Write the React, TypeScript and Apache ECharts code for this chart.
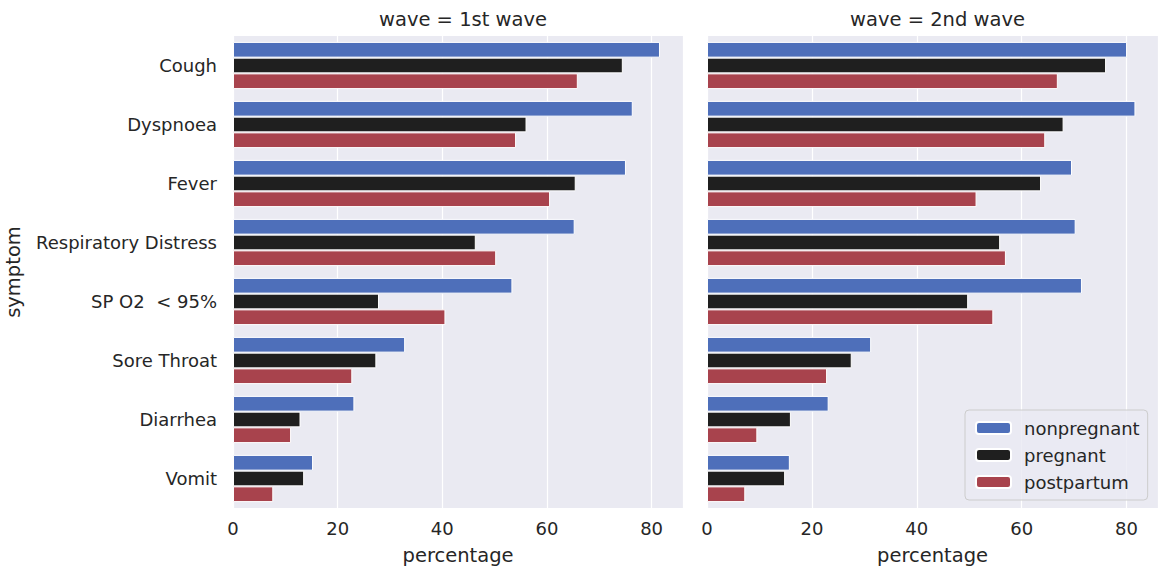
import React, { useEffect, useRef } from "react";
import * as echarts from "echarts";

const symptoms = ["Cough", "Dyspnoea", "Fever", "Respiratory Distress", "SP O2  < 95%", "Sore Throat", "Diarrhea", "Vomit"];
const groups = ["nonpregnant", "pregnant", "postpartum"];
const waveTitles = ["wave = 1st wave", "wave = 2nd wave"];

const wave1Nonpregnant = [81.6, 76.4, 75.1, 65.3, 53.4, 32.9, 23.2, 15.3];
const wave1Pregnant = [74.5, 56.1, 65.5, 46.4, 27.9, 27.4, 12.9, 13.6];
const wave1Postpartum = [65.9, 54.1, 60.6, 50.3, 40.6, 22.8, 11.1, 7.7];

const wave2Nonpregnant = [80.1, 81.7, 69.6, 70.3, 71.5, 31.3, 23.2, 15.8];
const wave2Pregnant = [76.1, 68.0, 63.7, 55.9, 49.8, 27.6, 16.0, 14.9];
const wave2Postpartum = [66.9, 64.5, 51.4, 57.0, 54.6, 22.9, 9.6, 7.3];

const xTicks = [0, 20, 40, 60, 80];

const colors = ["#4e6fba", "#1f1f1f", "#a8434d"];
const FONT = "DejaVu Sans";

export default function App() {
  const ref = useRef<HTMLDivElement>(null);
  useEffect(() => {
    if (!ref.current) return;
    const chart = echarts.init(ref.current, undefined, { renderer: "svg" });
    const waves = [
      [wave1Nonpregnant, wave1Pregnant, wave1Postpartum],
      [wave2Nonpregnant, wave2Pregnant, wave2Postpartum],
    ];
    const grids = [
      { left: 233, top: 36, width: 450, height: 474 },
      { left: 707, top: 36, width: 451, height: 474 },
    ];
    const xAxes = grids.map((_, i) => ({
      type: "value",
      gridIndex: i,
      min: 0,
      max: 86,
      interval: 20,
      name: "percentage",
      nameLocation: "middle",
      nameGap: 37,
      nameTextStyle: { fontFamily: FONT, fontSize: 19.5, color: "#262626" },
      axisLine: { show: false },
      axisTick: { show: false },
      axisLabel: {
        fontFamily: FONT,
        fontSize: 18,
        color: "#262626",
        margin: 11,
        formatter: (v: number) => (xTicks.includes(v) ? String(v) : ""),
      },
      splitLine: { show: true, lineStyle: { color: "#ffffff", width: 1.2 } },
    }));
    const yAxes = grids.map((_, i) => ({
      type: "category",
      gridIndex: i,
      data: symptoms,
      inverse: true,
      name: i === 0 ? "symptom" : "",
      nameLocation: "middle",
      nameRotate: 90,
      nameGap: 210,
      nameTextStyle: { fontFamily: FONT, fontSize: 19.5, color: "#262626" },
      axisLine: { show: false },
      axisTick: { show: false },
      axisLabel: {
        show: i === 0,
        fontFamily: FONT,
        fontSize: 18,
        color: "#262626",
        margin: 16,
      },
      splitLine: { show: false },
    }));
    const series: any[] = [];
    waves.forEach((w, i) => {
      w.forEach((vals, g) => {
        series.push({
          type: "bar",
          name: groups[g],
          xAxisIndex: i,
          yAxisIndex: i,
          data: vals,
          barGap: "0%",
          barCategoryGap: "20%",
          itemStyle: { color: colors[g], borderColor: "#ffffff", borderWidth: 1 },
        });
      });
    });
    chart.setOption({
      animation: false,
      backgroundColor: "#ffffff",
      title: waveTitles.map((t, i) => ({
        text: t,
        left: grids[i].left + grids[i].width / 2,
        top: 4,
        textAlign: "center",
        textStyle: { fontFamily: FONT, fontSize: 19.5, fontWeight: "normal", color: "#262626" },
      })),
      grid: grids.map((g) => ({
        ...g,
        show: true,
        backgroundColor: "#eaeaf2",
        borderWidth: 0,
      })),
      xAxis: xAxes,
      yAxis: yAxes,
      legend: {
        data: groups,
        orient: "vertical",
        left: 965,
        top: 410,
        itemWidth: 35,
        itemHeight: 12,
        itemGap: 9,
        padding: [9, 8, 9, 10],
        backgroundColor: "rgba(234,234,242,0.8)",
        borderColor: "#cccccc",
        borderWidth: 1,
        borderRadius: 4,
        textStyle: { fontFamily: FONT, fontSize: 18, color: "#262626", padding: [0, 0, 0, 8] },
      },
      series,
    });
    return () => chart.dispose();
  }, []);
  return <div ref={ref} style={{ position: "absolute", left: 0, top: 0, width: 1168, height: 570 }} />;
}
